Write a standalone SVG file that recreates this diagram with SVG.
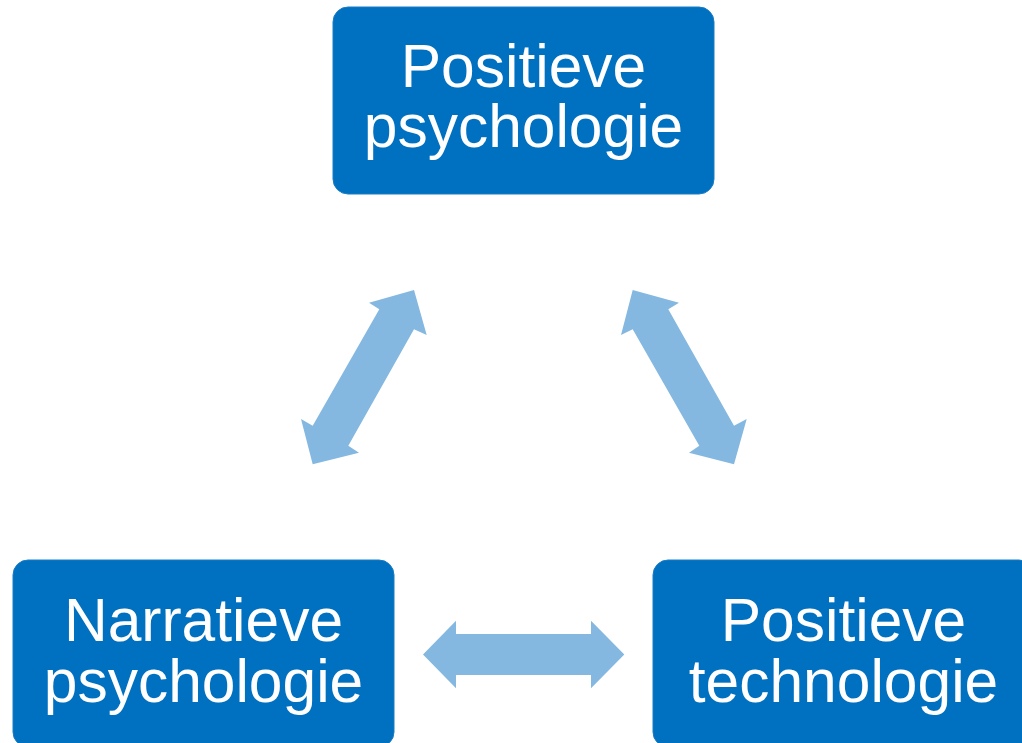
<svg xmlns="http://www.w3.org/2000/svg" width="1022" height="743" viewBox="0 0 1022 743">
<style>
.box{fill:#0070C0;stroke:#1a7cc6;stroke-width:1}
.lbl{font-family:"Liberation Sans",Arial,sans-serif;font-size:60.5px;fill:#ffffff;text-anchor:middle}
.arr{fill:#84B8E0}
</style>
<rect width="1022" height="743" fill="#ffffff"/>
<g id="connectors">
<polygon class="arr" points="414,290 426.7,335 414,329.3 348.3,445.7 359,452.7 312.7,464.3 301,419 312.7,425.7 379.3,309.3 369,302.7"/>
<polygon class="arr" points="632.7,290 621,335 632.7,329.3 699.3,445.7 689,452.7 734,464.3 746.7,419 734,425.7 668.3,309.3 679,302.7"/>
<polygon class="arr" points="423,654.5 456,620.7 456,634 591,634 591,620.7 624.3,654.5 591,688.3 591,675 456,675 456,688.3"/>
</g>
<g id="node-positieve-psychologie">
<rect class="box" x="333" y="7" width="381" height="187" rx="15"/>
<text class="lbl"><tspan x="523.5" y="87">Positieve</tspan><tspan x="523.5" y="147">psychologie</tspan></text>
</g>
<g id="node-narratieve-psychologie">
<rect class="box" x="13" y="560" width="381" height="187" rx="15"/>
<text class="lbl"><tspan x="203.5" y="641">Narratieve</tspan><tspan x="203.5" y="702">psychologie</tspan></text>
</g>
<g id="node-positieve-technologie">
<rect class="box" x="653" y="560" width="381" height="187" rx="15"/>
<text class="lbl"><tspan x="843.5" y="641">Positieve</tspan><tspan x="843.5" y="702">technologie</tspan></text>
</g>
</svg>
